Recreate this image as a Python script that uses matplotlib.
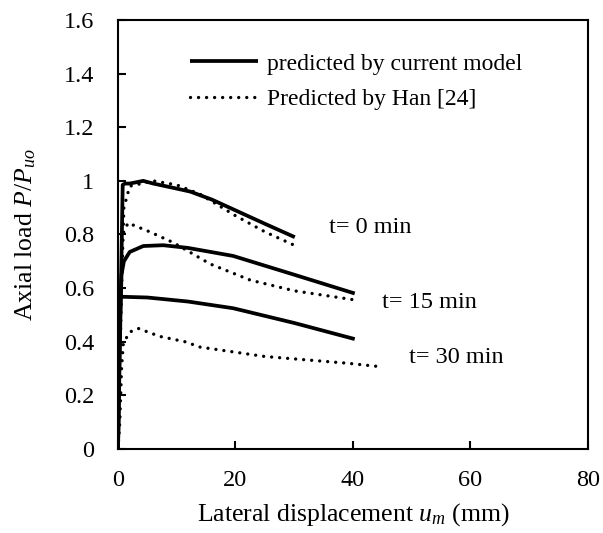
import numpy as np
import matplotlib.pyplot as plt
from matplotlib.ticker import FormatStrFormatter

plt.rcParams['font.family'] = 'Liberation Serif'
plt.rcParams['mathtext.fontset'] = 'custom'
plt.rcParams['mathtext.rm'] = 'Liberation Serif'
plt.rcParams['mathtext.it'] = 'Liberation Serif:italic'

# current model (solid)
x_cur_0 = [0, 0.5, 0.8, 1.2, 2.0, 4.3, 6.0, 9.2, 12.3, 16, 20, 25, 30.1]
y_cur_0 = [0, 0.6, 0.985, 0.99, 0.99, 1.0, 0.99, 0.975, 0.96, 0.93, 0.89, 0.84, 0.79]
x_cur_15 = [0, 0.3, 0.6, 1.0, 2.0, 4.3, 7.7, 11.9, 19.6, 30, 40.3]
y_cur_15 = [0, 0.45, 0.65, 0.70, 0.735, 0.757, 0.76, 0.75, 0.72, 0.65, 0.58]
x_cur_30 = [0, 0.3, 5, 11.9, 19.6, 30, 40.3]
y_cur_30 = [0, 0.568, 0.565, 0.55, 0.525, 0.47, 0.41]

# Han [24] (dotted)
x_han_0 = [0, 0.6, 1.0, 2.0, 6.0, 10, 14, 20, 25, 30.6]
y_han_0 = [0, 0.6, 0.9, 0.98, 1.0, 0.985, 0.95, 0.87, 0.81, 0.754]
x_han_15 = [0, 0.4, 0.8, 1.7, 5.4, 9.4, 15.7, 22.5, 30, 40.3]
y_han_15 = [0, 0.5, 0.8, 0.843, 0.81, 0.77, 0.69, 0.63, 0.59, 0.556]
x_han_30 = [0, 0.3, 0.6, 0.9, 2.0, 3.4, 7.1, 11.4, 14, 25, 39, 45.1]
y_han_30 = [0, 0.1, 0.3, 0.395, 0.436, 0.45, 0.42, 0.40, 0.38, 0.345, 0.32, 0.306]

labels = ['t= 0 min', 't= 15 min', 't= 30 min']
label_x = [36.0, 45.0, 49.6]
label_y = [0.825, 0.548, 0.34]

fs = 17.5
fig = plt.figure(figsize=(6.03, 5.33), dpi=100)
ax = fig.add_axes([0.1957, 0.1576, 0.7793, 0.8049])

solid = dict(color='black', lw=2.7, solid_capstyle='butt')
dotted = dict(color='black', lw=2.4, linestyle=(0, (0.01, 2.4)), dash_capstyle='round')

ax.plot(x_cur_0, y_cur_0, label='predicted by current model', **solid)
ax.plot(x_han_0, y_han_0, label='Predicted by Han [24]', **dotted)
ax.plot(x_cur_15, y_cur_15, **solid)
ax.plot(x_han_15, y_han_15, **dotted)
ax.plot(x_cur_30, y_cur_30, **solid)
ax.plot(x_han_30, y_han_30, **dotted)

for s, tx, ty in zip(labels, label_x, label_y):
    ax.text(tx, ty, s, fontsize=fs, va='center', ha='left')

ax.set_xlim(0, 80)
ax.set_ylim(0, 1.6)
ax.set_xticks([0, 20, 40, 60, 80])
ax.set_yticks(np.arange(0, 1.61, 0.2))
ax.yaxis.set_major_formatter(FormatStrFormatter('%g'))
ax.tick_params(direction='in', length=6, width=1.5, labelsize=fs)
ax.tick_params(axis='y', pad=17)
ax.tick_params(axis='x', pad=15)
for sp in ax.spines.values():
    sp.set_linewidth(1.5)

ax.set_xlabel('Lateral displacement $u_m$ (mm)', fontsize=18.5, va='center')
ax.set_ylabel('Axial load $P/P_{uo}$', fontsize=18.5, va='center')
ax.xaxis.set_label_coords(0.5, -0.152)
ax.yaxis.set_label_coords(-0.197, 0.5)

ax.legend(loc='upper left', bbox_to_anchor=(0.153, 0.923), frameon=False,
          borderaxespad=0, borderpad=0, fontsize=17, handlelength=2.9,
          handletextpad=0.37, labelspacing=0.6)

fig.savefig('out.png', dpi=100)
